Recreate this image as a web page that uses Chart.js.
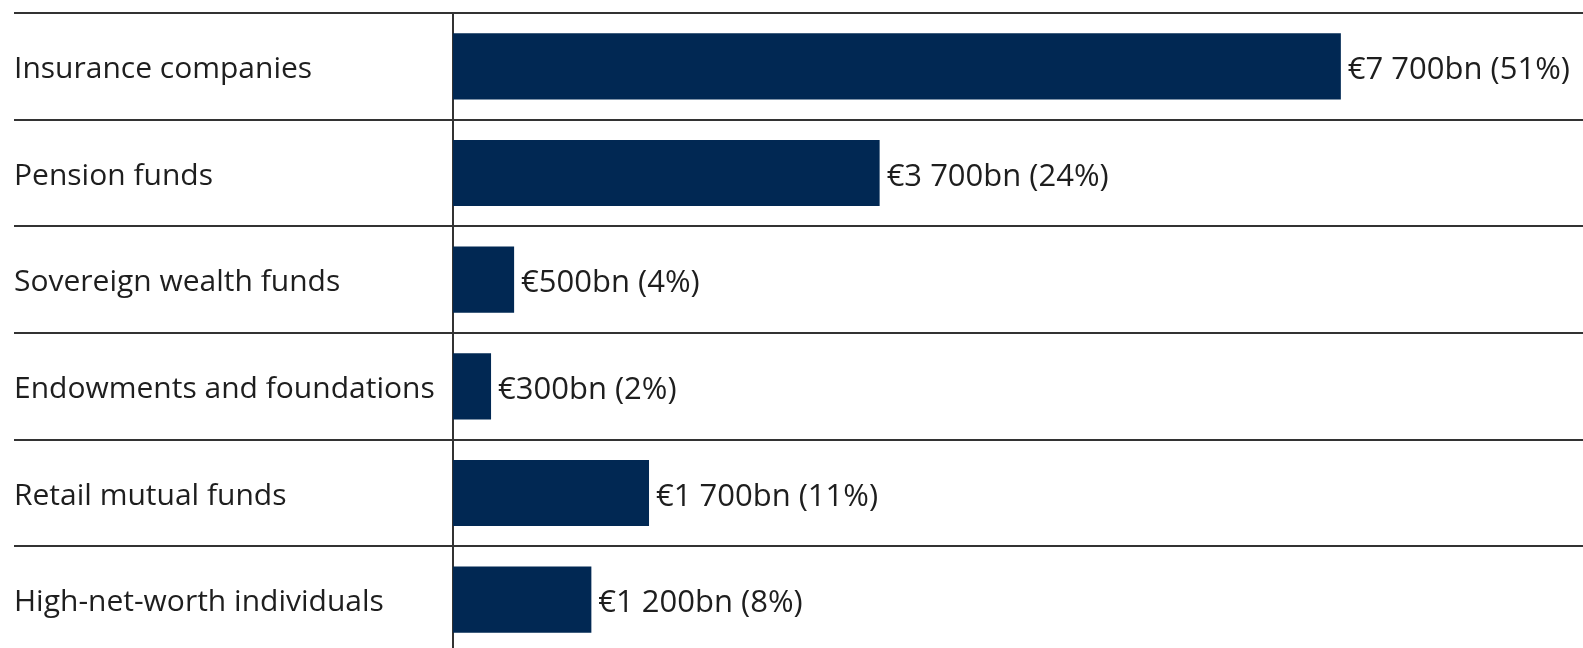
<!DOCTYPE html>
<html lang="en">

<head>
    <meta charset="UTF-8">
    <script src="https://cdn.jsdelivr.net/npm/chart.js"></script>
    <title>Investor assets</title>
    <style>
        html, body {
            margin: 0;
            padding: 0;
            background-color: #FFFFFF;
            overflow: hidden;
        }

        #chart {
            display: block;
        }
    </style>
</head>

<body>
    <canvas id="chart" width="1583" height="660"></canvas>
    <script>
        // categories, top to bottom
        const categories = [
            "Insurance companies",
            "Pension funds",
            "Sovereign wealth funds",
            "Endowments and foundations",
            "Retail mutual funds",
            "High-net-worth individuals"
        ];
        // bar lengths in EUR bn
        const assets = [7700, 3700, 530, 330, 1700, 1200];
        // text printed next to each bar
        const valueLabels = [
            "€7 700bn (51%)",
            "€3 700bn (24%)",
            "€500bn (4%)",
            "€300bn (2%)",
            "€1 700bn (11%)",
            "€1 200bn (8%)"
        ];

        const FONT = {family: "'Open Sans', sans-serif", size: 30};
        const LINE = '#333333';
        const AXIS_X = 453;
        const LEFT = 14;

        // draws the figures at the end of each bar
        const barLabels = {
            id: 'barLabels',
            afterDatasetsDraw(chart) {
                const ctx = chart.ctx;
                const meta = chart.getDatasetMeta(0);
                ctx.save();
                ctx.font = "31px " + FONT.family;
                ctx.fillStyle = '#1e1e1e';
                ctx.textAlign = 'left';
                ctx.textBaseline = 'middle';
                meta.data.forEach((bar, i) => {
                    ctx.fillText(valueLabels[i], bar.x + 7, bar.y + 4);
                });
                ctx.restore();
            }
        };

        new Chart(document.getElementById("chart"), {
            type: 'bar',
            data: {
                labels: categories,
                datasets: [{
                    data: assets,
                    backgroundColor: '#012853',
                    borderWidth: 0,
                    barPercentage: 0.62,
                    categoryPercentage: 1
                }]
            },
            options: {
                indexAxis: 'y',
                responsive: false,
                animation: false,
                events: [],
                layout: {padding: {left: LEFT, top: 13, right: 0, bottom: 7}},
                plugins: {
                    legend: {display: false},
                    tooltip: {enabled: false}
                },
                scales: {
                    x: {
                        display: false,
                        min: 0,
                        max: 9800
                    },
                    y: {
                        afterFit(scale) {
                            scale.width = AXIS_X - LEFT;
                            // labels sit inside the rows, no extra room needed
                            scale.paddingTop = 0;
                            scale.paddingBottom = 0;
                        },
                        grid: {
                            offset: true,
                            color: LINE,
                            lineWidth: 2,
                            drawTicks: true,
                            tickLength: AXIS_X - LEFT,
                            tickColor: LINE,
                            tickWidth: 2
                        },
                        border: {display: true, color: LINE, width: 2},
                        ticks: {
                            crossAlign: 'far',
                            labelOffset: 3,
                            color: '#1e1e1e',
                            font: FONT
                        }
                    }
                }
            },
            plugins: [barLabels]
        });
    </script>
</body>

</html>
